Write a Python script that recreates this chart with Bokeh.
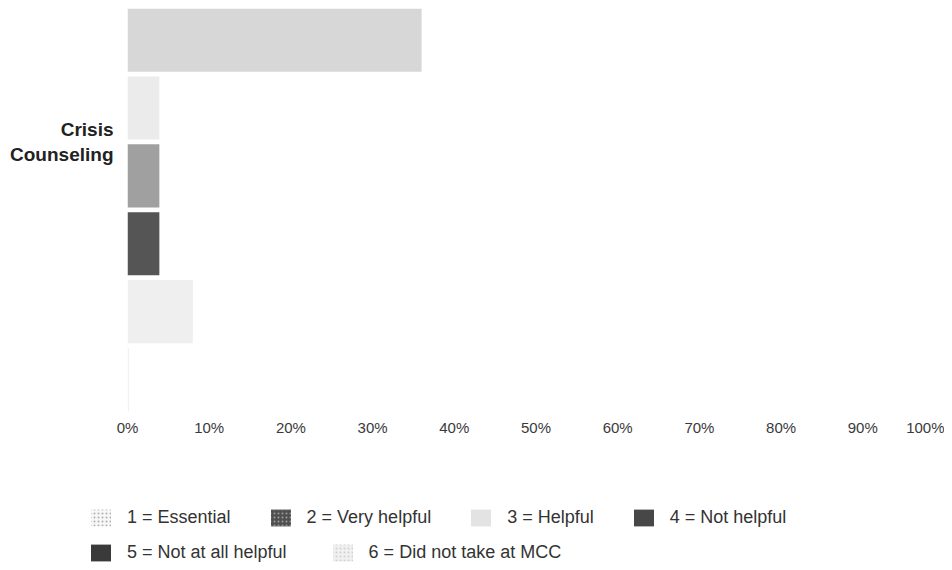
from bokeh.plotting import figure
from bokeh.models import Range1d, FixedTicker, Legend, LegendItem, ColumnDataSource
from bokeh.embed import file_html
from bokeh.resources import INLINE

# ---- data ----
categories = ["1 = Essential", "2 = Very helpful", "3 = Helpful",
              "4 = Not helpful", "5 = Not at all helpful", "6 = Did not take at MCC"]
values = [36.0, 3.9, 3.9, 3.9, 8.0, 0.2]          # percent, bars top to bottom
group_label = "Crisis\nCounseling"
x_ticks = [0, 10, 20, 30, 40, 50, 60, 70, 80, 90, 100]
x_tick_labels = ["0%", "10%", "20%", "30%", "40%", "50%", "60%", "70%", "80%", "90%", "100%"]

# ---- styles ----
FONT = "Liberation Sans"
bar_colors = ["#d7d7d7", "#ebebeb", "#a0a0a0", "#555555", "#efefef", "#f2f2f2"]
swatch_fill = ["#f7f7f7", "#4f4f4f", "#e3e3e3", "#474747", "#3a3a3a", "#f0f0f0"]
swatch_hatch = ["dot", "dot", None, None, None, "dot"]
swatch_hatch_color = ["#b0b0b0", "#9a9a9a", None, None, None, "#d0d0d0"]

pos = list(range(len(categories)))
src = ColumnDataSource(dict(y=pos, right=values, color=bar_colors, cat=categories))

W = 944
p = figure(width=W, height=445, output_backend="svg", toolbar_location=None,
           x_range=Range1d(0, 100), y_range=Range1d(5.485, -0.465),
           min_border_left=127, min_border_right=0, min_border_top=8,
           min_border_bottom=33)
p.outline_line_color = None
p.xgrid.visible = False
p.ygrid.visible = False

p.hbar(y="y", left=0, right="right", height=0.93, fill_color="color",
       line_color=None, source=src)

# x axis: the last label sits squeezed left as in the reference
label_pos = [t if t < 100 else 98 for t in x_ticks]
xa = p.xaxis[0]
xa.ticker = FixedTicker(ticks=label_pos)
xa.major_label_overrides = {lp: lab for lp, lab in zip(label_pos, x_tick_labels)}
xa.axis_line_color = None
xa.major_tick_line_color = None
xa.minor_tick_line_color = None
xa.major_tick_out = 0
xa.major_label_standoff = 6
xa.major_label_text_font = FONT
xa.major_label_text_font_size = "15px"
xa.major_label_text_color = "#3a3a3a"

# y axis: single group label
ya = p.yaxis[0]
ya.ticker = FixedTicker(ticks=[1.5])
ya.major_label_overrides = {1.5: group_label}
ya.axis_line_color = None
ya.major_tick_line_color = None
ya.minor_tick_line_color = None
ya.major_tick_out = 0
ya.major_label_standoff = 14
ya.major_label_text_font = FONT
ya.major_label_text_font_size = "19px"
ya.major_label_text_font_style = "bold"
ya.major_label_text_color = "#222222"
ya.major_label_text_align = "right"

# ---- legend strip below the chart (separate root, full-width frame) ----
LH = 119
pl = figure(width=W, height=LH, output_backend="svg", toolbar_location=None,
            x_range=Range1d(0, W), y_range=Range1d(0, LH), min_border=0,
            min_border_left=0, min_border_right=0, min_border_top=0,
            min_border_bottom=0)
pl.outline_line_color = None
pl.axis.visible = False
pl.grid.visible = False

items = []
for i, cat in enumerate(categories):
    kw = dict(fill_color=swatch_fill[i], line_color=None)
    if swatch_hatch[i]:
        kw.update(hatch_pattern=swatch_hatch[i], hatch_color=swatch_hatch_color[i],
                  hatch_scale=4, hatch_weight=1.2)
    # zero-size bar: carries the legend look only
    r = pl.hbar(y=[0], left=[0], right=[0], height=0, **kw)
    items.append(LegendItem(label=cat, renderers=[r]))

def make_legend(its, loc, spacing):
    return Legend(items=its, orientation="horizontal", location=loc, spacing=spacing,
                  glyph_width=25, glyph_height=21, label_standoff=14,
                  padding=0, margin=0, border_line_color=None,
                  background_fill_alpha=0, label_text_font=FONT,
                  label_text_font_size="18px", label_text_color="#333333")

pl.add_layout(make_legend(items[:4], (88, 36), 37), "center")
pl.add_layout(make_legend(items[4:], (88, 1), 43), "center")

open("out.html", "w").write(file_html([p, pl], INLINE))
